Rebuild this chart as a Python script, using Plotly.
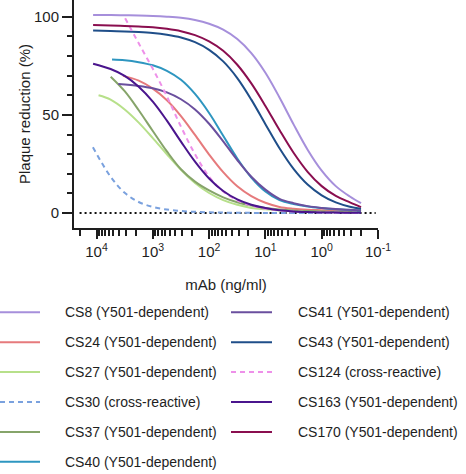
import plotly.graph_objects as go

FONT = "Liberation Sans, Arial, Helvetica, sans-serif"
INK = "#1e1e1e"

# ---- data: plaque reduction (%) versus mAb concentration (ng/ml) ----
# quarter-decade concentration grid, highest first
conc = [10000, 5620, 3160, 1780, 1000, 562, 316, 178, 100, 56.2, 31.6, 17.8,
        10, 5.62, 3.16, 1.78, 1, 0.562, 0.316, 0.2]

cs8_x = [11500] + conc[1:]
cs8_y = [101, 100.9, 100.8, 100.7, 100.5, 100.1, 99.5, 98.4, 96.5, 93.5,
         88.7, 81.5, 71.5, 58.9, 45.2, 32.3, 21.6, 13.7, 8.4, 5.0]

cs24_x = [3400] + conc[3:]
cs24_y = [69.9, 67.5, 63.4, 57.5, 49.4, 39.8, 29.8, 20.8, 13.6, 8.6,
          5.2, 3.1, 2.2, 1.7, 1.4, 1.1, 0.9, 0.7]

cs27_x = [9200] + conc[1:]
cs27_y = [60, 57.8, 52.8, 46.1, 38.2, 29.9, 22.0, 15.3, 10.2, 6.6,
          4.2, 2.6, 1.9, 1.3, 1.0, 0.8, 0.6, 0.5, 0.4, 0.4]

cs30_x = [11600] + conc[1:]
cs30_y = [33.5, 18.5, 10.3, 5.6, 3.1, 1.75, 1.0, 0.6, 0.35, 0.2,
          0.12, 0.07, 0.04, 0.03, 0.02, 0.02, 0.01, 0.01, 0.01, 0.01]

cs37_x = [5600] + conc[2:]
cs37_y = [69.5, 62.1, 52.4, 41.8, 31.4, 22.3, 16.0, 11.5, 8.0, 5.5,
          3.8, 2.6, 1.8, 1.3, 1.0, 0.8, 0.6, 0.5, 0.5]

cs40_x = [5300] + conc[2:]
cs40_y = [78.3, 77.9, 76.9, 75.3, 72.5, 67.9, 60.7, 51.0, 39.4, 27.8,
          18.1, 11.0, 6.6, 4.6, 3.3, 2.5, 1.9, 1.5, 1.2]

cs41_x = [4100] + conc[3:]
cs41_y = [65.8, 64.8, 63.6, 61.5, 58.0, 52.8, 45.5, 36.5, 27.0, 18.5,
          11.9, 7.2, 5.0, 3.5, 2.6, 2.0, 1.6, 1.3]

cs43_x = [11500] + conc[1:]
cs43_y = [93, 92.75, 92.6, 92.3, 91.8, 90.9, 89.5, 87.1, 83.2, 77.3,
          68.8, 57.8, 45.3, 33.0, 22.5, 14.5, 9.0, 5.4, 3.2, 2.2]

cs124_x = [3100] + conc[3:]
cs124_y = [99.3, 86.5, 73.5, 59.5, 44, 30, 18.5, 11, 6.5, 3.8,
           2.2, 1.3, 0.8, 0.5, 0.3, 0.2, 0.1, 0.1]

cs163_x = [11500] + conc[1:]
cs163_y = [76.1, 73.4, 69.9, 64.4, 56.8, 47.1, 36.4, 26.2, 17.6, 11.2,
           6.9, 4.2, 2.5, 1.4, 0.8, 0.5, 0.3, 0.2, 0.1, 0.1]

cs170_x = [11500] + conc[1:]
cs170_y = [95.8, 95.6, 95.4, 95.1, 94.7, 93.9, 92.7, 90.7, 87.5, 82.7,
           75.6, 66.1, 54.6, 42.3, 30.7, 21.0, 13.7, 8.7, 5.4, 3.0]

names = ["CS8 (Y501-dependent)", "CS24 (Y501-dependent)", "CS27 (Y501-dependent)",
         "CS30 (cross-reactive)", "CS37 (Y501-dependent)", "CS40 (Y501-dependent)",
         "CS41 (Y501-dependent)", "CS43 (Y501-dependent)", "CS124 (cross-reactive)",
         "CS163 (Y501-dependent)", "CS170 (Y501-dependent)"]
xs = [cs8_x, cs24_x, cs27_x, cs30_x, cs37_x, cs40_x, cs41_x, cs43_x, cs124_x, cs163_x, cs170_x]
ys = [cs8_y, cs24_y, cs27_y, cs30_y, cs37_y, cs40_y, cs41_y, cs43_y, cs124_y, cs163_y, cs170_y]
colors = ["#a68fdb", "#e67a7c", "#b7e08a", "#7aa1de", "#86a46a", "#2e96c0",
          "#6a4f9e", "#1f4e89", "#ee90e9", "#4a158d", "#8a0e4f"]
dashed = [False, False, False, True, False, False, False, False, True, False, False]

major_ticks = [1e4, 1e3, 1e2, 1e1, 1e0, 1e-1]
major_text = ["10<sup>4</sup>", "10<sup>3</sup>", "10<sup>2</sup>",
              "10<sup>1</sup>", "10<sup>0</sup>", "10<sup>-1</sup>"]
minor_ticks = [m * 10.0 ** k for k in range(-1, 5) for m in range(2, 10) if m * 10.0 ** k <= 2e4]

baseline_x = [2e4, 0.11]
baseline_y = [0, 0]

# ---- figure geometry (pixels) ----
W, H = 466, 474
PL, PR, PT, PB = 74, 378, 0, 228   # plot area edges


def px_x(px):
    return (px - PL) / (PR - PL)


def px_y(py):
    return (PB - py) / (PB - PT)


fig = go.Figure()

# dotted reference line at 0 %
fig.add_trace(go.Scatter(x=baseline_x, y=baseline_y, mode="lines",
                         line=dict(color="#111111", width=2, dash="2px,3px"),
                         hoverinfo="skip", showlegend=False))

for x, y, c, d, n in zip(xs, ys, colors, dashed, names):
    fig.add_trace(go.Scatter(
        x=x, y=y, mode="lines", name=n,
        line=dict(color=c, width=2, shape="spline", smoothing=1.0,
                  dash="5px,4px" if d else "solid"),
        hoverinfo="skip", showlegend=False))

# two-column key below the axes
shapes, annotations = [], []
row_y0, row_step = 312.3, 29.9
for i, (n, c, d) in enumerate(zip(names, colors, dashed)):
    col = 0 if i < 6 else 1
    row = i if i < 6 else i - 6
    y = px_y(row_y0 + row * row_step)
    lx0, lx1, tx = (0, 40, 63) if col == 0 else (231, 272, 296)
    shapes.append(dict(type="line", xref="paper", yref="paper",
                       x0=px_x(lx0), x1=px_x(lx1), y0=y, y1=y,
                       line=dict(color=c, width=2, dash="5px,4px" if d else "solid")))
    annotations.append(dict(xref="paper", yref="paper", x=px_x(tx), y=y,
                            xanchor="left", yanchor="middle", showarrow=False,
                            text=n, font=dict(family=FONT, size=14, color=INK)))

axis_common = dict(showline=True, linecolor=INK, linewidth=2, ticks="outside",
                   tickcolor=INK, tickwidth=1.5, showgrid=False, zeroline=False,
                   tickfont=dict(family=FONT, size=15, color=INK))

fig.update_layout(
    width=W, height=H,
    margin=dict(l=PL, r=W - PR, t=PT, b=H - PB, pad=0),
    paper_bgcolor="white", plot_bgcolor="white",
    font=dict(family=FONT, size=15, color=INK),
    showlegend=False, hovermode=False,
    shapes=shapes, annotations=annotations,
    xaxis=dict(type="log", range=[4.4, -1], tickmode="array",
               tickvals=major_ticks, ticktext=major_text, ticklen=9,
               minor=dict(tickmode="array", tickvals=minor_ticks, ticklen=6,
                          tickwidth=1.5, tickcolor=INK, ticks="outside"),
               title=dict(text="mAb (ng/ml)", standoff=20,
                          font=dict(family=FONT, size=15, color=INK)),
               **axis_common),
    yaxis=dict(range=[-7.65, 108.6], tickmode="array", tickvals=[0, 50, 100],
               ticklen=10,
               minor=dict(tickmode="array", tickvals=[10, 20, 30, 40, 60, 70, 80, 90],
                          ticklen=5, tickwidth=1.5, tickcolor=INK, ticks="outside"),
               title=dict(text="Plaque reduction (%)", standoff=0,
                          font=dict(family=FONT, size=15, color=INK)),
               **axis_common),
)

fig.write_html("out.html")
